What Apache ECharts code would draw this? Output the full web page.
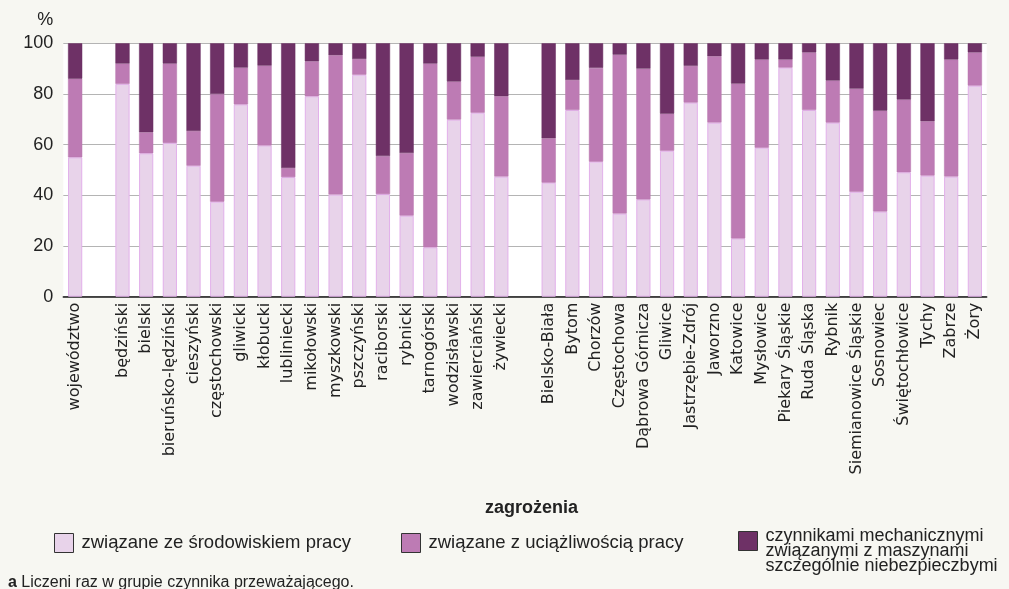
<!DOCTYPE html>
<html>
<head>
<meta charset="utf-8">
<script src="https://cdn.jsdelivr.net/npm/echarts@6/dist/echarts.min.js"></script>
<style>
html,body{margin:0;padding:0;background:#f7f7f2;}
#c{width:1009px;height:589px;}
</style>
</head>
<body>
<div id="c"></div>
<script>
var categories = ['województwo', '',
  'będziński','bielski','bieruńsko-lędziński','cieszyński','częstochowski','gliwicki','kłobucki','lubliniecki','mikołowski','myszkowski','pszczyński','raciborski','rybnicki','tarnogórski','wodzisławski','zawierciański','żywiecki',
  '',
  'Bielsko-Biała','Bytom','Chorzów','Częstochowa','Dąbrowa Górnicza','Gliwice','Jastrzębie-Zdrój','Jaworzno','Katowice','Mysłowice','Piekary Śląskie','Ruda Śląska','Rybnik','Siemianowice Śląskie','Sosnowiec','Świętochłowice','Tychy','Zabrze','Żory'];

var seriesNames = ['związane ze środowiskiem pracy', 'związane z uciążliwością pracy', 'czynnikami mechanicznymi\nzwiązanymi z maszynami\nszczególnie niebezpieczbymi'];

var srodowisko = [55.0, null,
  84.0, 56.6, 60.7, 51.7, 37.5, 75.9, 59.7, 47.2, 79.1, 40.3, 87.6, 40.5, 32.0, 19.5, 69.9, 72.6, 47.4,
  null,
  45.0, 73.7, 53.3, 32.8, 38.4, 57.6, 76.6, 68.7, 23.0, 58.8, 90.4, 73.7, 68.7, 41.4, 33.6, 49.1, 47.8, 47.4, 83.3];

var uciazliwosc = [31.0, null,
  8.0, 8.3, 31.3, 13.7, 42.5, 14.5, 31.5, 3.6, 13.8, 55.0, 6.2, 15.0, 24.7, 72.5, 15.0, 22.1, 31.7,
  null,
  17.5, 11.8, 37.0, 62.7, 51.6, 14.6, 14.5, 26.2, 61.1, 34.8, 3.2, 22.7, 16.6, 40.7, 39.8, 28.7, 21.4, 46.2, 13.1];

var mechaniczne = [14.0, null,
  8.0, 35.1, 8.0, 34.6, 20.0, 9.6, 8.8, 49.2, 7.1, 4.7, 6.2, 44.5, 43.3, 8.0, 15.1, 5.3, 20.9,
  null,
  37.5, 14.5, 9.7, 4.5, 10.0, 27.8, 8.9, 5.1, 15.9, 6.4, 6.4, 3.6, 14.7, 17.9, 26.6, 22.2, 30.8, 6.4, 3.6];

var yTicks = [0, 20, 40, 60, 80, 100];

var colors = ['#e8d3ea', '#bd7bb4', '#6e3166'];
var borders = ['#e2b0ea', '#b876ae', '#6a2f62'];
var FONT = '"Liberation Sans", Arial, sans-serif';

var chart = echarts.init(document.getElementById('c'));

function legendFor(i, left, top, fontSize, multi) {
  return {
    data: [seriesNames[i]],
    left: left,
    top: top,
    padding: 0,
    itemWidth: 19,
    itemHeight: 19,
    icon: 'rect',
    itemStyle: { borderColor: '#333', borderWidth: 1 },
    formatter: function (name) {
      var lines = name.split('\n').map(function (l) { return '{t|' + l + '}'; });
      if (multi) { lines.unshift('{s| }'); }
      return lines.join('\n');
    },
    textStyle: {
      fontFamily: FONT, fontSize: fontSize, color: '#222',
      rich: {
        t: { fontFamily: FONT, fontSize: fontSize, color: '#222', padding: [0, 0, 0, 3], lineHeight: multi ? 15 : 20 },
        s: { fontFamily: FONT, fontSize: fontSize, lineHeight: 21 }
      }
    }
  };
}

chart.setOption({
  backgroundColor: '#f7f7f2',
  animation: false,
  grid: { left: 63.3, right: 22.3, top: 43.3, bottom: 292.3, show: true, backgroundColor: '#ffffff', borderWidth: 0 },
  xAxis: {
    type: 'category',
    data: categories,
    axisTick: { show: false },
    axisLine: { lineStyle: { color: '#1a1a1a', width: 1.5 } },
    axisLabel: { interval: 0, rotate: 90, margin: 6, fontFamily: '"DejaVu Sans", sans-serif', fontSize: 16, color: '#222' }
  },
  yAxis: {
    type: 'value',
    min: yTicks[0],
    max: yTicks[yTicks.length - 1],
    interval: yTicks[1] - yTicks[0],
    name: '%',
    nameLocation: 'end',
    nameGap: 14,
    nameTextStyle: { fontFamily: FONT, fontSize: 18, color: '#222', align: 'right', padding: [0, 10, 0, 0] },
    axisLine: { show: false },
    axisTick: { show: false },
    axisLabel: { margin: 10, fontFamily: FONT, fontSize: 18, color: '#222' },
    splitLine: { lineStyle: { color: '#b4b4b4', width: 1 } }
  },
  legend: [
    legendFor(0, 54, 533, 18.5, false),
    legendFor(1, 401, 533, 18.5, false),
    legendFor(2, 738, 509.5, 18, true)
  ],
  graphic: [
    { type: 'text', left: 485, top: 499, style: { text: 'zagrożenia', font: 'bold 18px ' + FONT, fill: '#222' } },
    { type: 'text', left: 8, top: 575, style: {
      text: '{b|a} Liczeni raz w grupie czynnika przeważającego.',
      rich: { b: { fontWeight: 'bold', fontFamily: FONT, fontSize: 16, fill: '#222' } },
      fontFamily: FONT, fontSize: 16, fill: '#222' } }
  ],
  series: [
    { name: seriesNames[0], type: 'bar', stack: 's', data: srodowisko, barWidth: '60%',
      itemStyle: { color: colors[0], borderColor: borders[0], borderWidth: 1 } },
    { name: seriesNames[1], type: 'bar', stack: 's', data: uciazliwosc, barWidth: '60%',
      itemStyle: { color: colors[1], borderColor: borders[1], borderWidth: 0.5 } },
    { name: seriesNames[2], type: 'bar', stack: 's', data: mechaniczne, barWidth: '60%',
      itemStyle: { color: colors[2], borderColor: borders[2], borderWidth: 0.5 } }
  ]
});
</script>
</body>
</html>
